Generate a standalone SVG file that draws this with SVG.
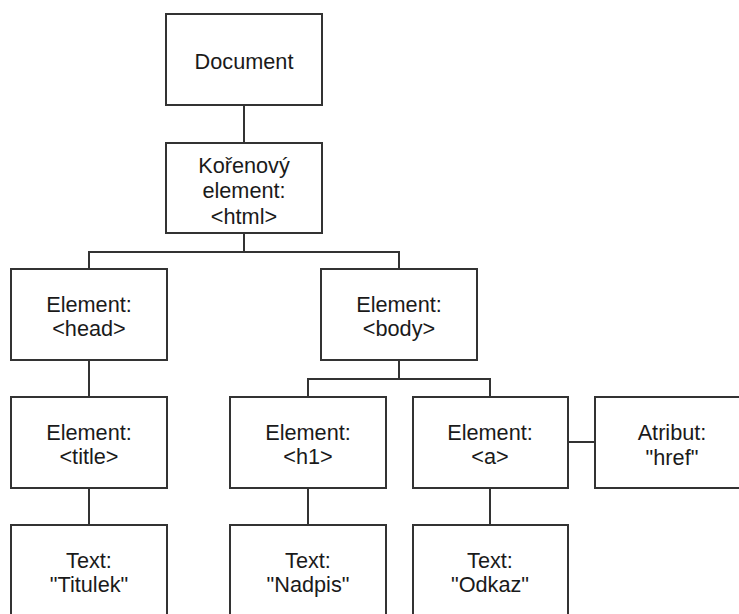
<svg xmlns="http://www.w3.org/2000/svg" width="739" height="614" viewBox="0 0 739 614">
<style>
.box{fill:#ffffff;stroke:#333333;stroke-width:2}
.conn{fill:none;stroke:#333333;stroke-width:2}
text{font-family:"Liberation Sans",Arial,sans-serif;font-size:21.7px;fill:#1a1a1a;text-anchor:middle}
</style>
<rect width="739" height="614" fill="#ffffff"/>
<g id="connectors">
<path class="conn" d="M244,105V143"/>
<path class="conn" d="M244,233V252M89,269V252H399V269"/>
<path class="conn" d="M89,360V397"/>
<path class="conn" d="M399,360V379M308,397V379H490V397"/>
<path class="conn" d="M568,442H595"/>
<path class="conn" d="M89,488V525"/>
<path class="conn" d="M308,488V525"/>
<path class="conn" d="M490,488V525"/>
</g>
<g id="document">
<rect class="box" x="166" y="14" width="156" height="91"/>
<text x="244" y="69">Document</text>
</g>
<g id="root">
<rect class="box" x="166" y="143" width="156" height="90"/>
<text x="244" y="173">Kořenový</text>
<text x="244" y="198">element:</text>
<text x="244" y="224">&lt;html&gt;</text>
</g>
<g id="head">
<rect class="box" x="11" y="269" width="156" height="91"/>
<text x="89" y="312">Element:</text>
<text x="89" y="336">&lt;head&gt;</text>
</g>
<g id="body">
<rect class="box" x="321" y="269" width="156" height="91"/>
<text x="399" y="312">Element:</text>
<text x="399" y="336">&lt;body&gt;</text>
</g>
<g id="title">
<rect class="box" x="11" y="397" width="156" height="91"/>
<text x="89" y="440">Element:</text>
<text x="89" y="464">&lt;title&gt;</text>
</g>
<g id="h1">
<rect class="box" x="230" y="397" width="156" height="91"/>
<text x="308" y="440">Element:</text>
<text x="308" y="464">&lt;h1&gt;</text>
</g>
<g id="a">
<rect class="box" x="413" y="397" width="155" height="91"/>
<text x="490" y="440">Element:</text>
<text x="490" y="464">&lt;a&gt;</text>
</g>
<g id="href">
<rect class="box" x="595" y="397" width="155" height="91"/>
<text x="672" y="440">Atribut:</text>
<text x="672" y="465">"href"</text>
</g>
<g id="text-titulek">
<rect class="box" x="11" y="525" width="156" height="95"/>
<text x="89" y="568">Text:</text>
<text x="89" y="592">"Titulek"</text>
</g>
<g id="text-nadpis">
<rect class="box" x="230" y="525" width="156" height="95"/>
<text x="308" y="568">Text:</text>
<text x="308" y="592">"Nadpis"</text>
</g>
<g id="text-odkaz">
<rect class="box" x="413" y="525" width="155" height="95"/>
<text x="490" y="568">Text:</text>
<text x="490" y="592">"Odkaz"</text>
</g>
</svg>
